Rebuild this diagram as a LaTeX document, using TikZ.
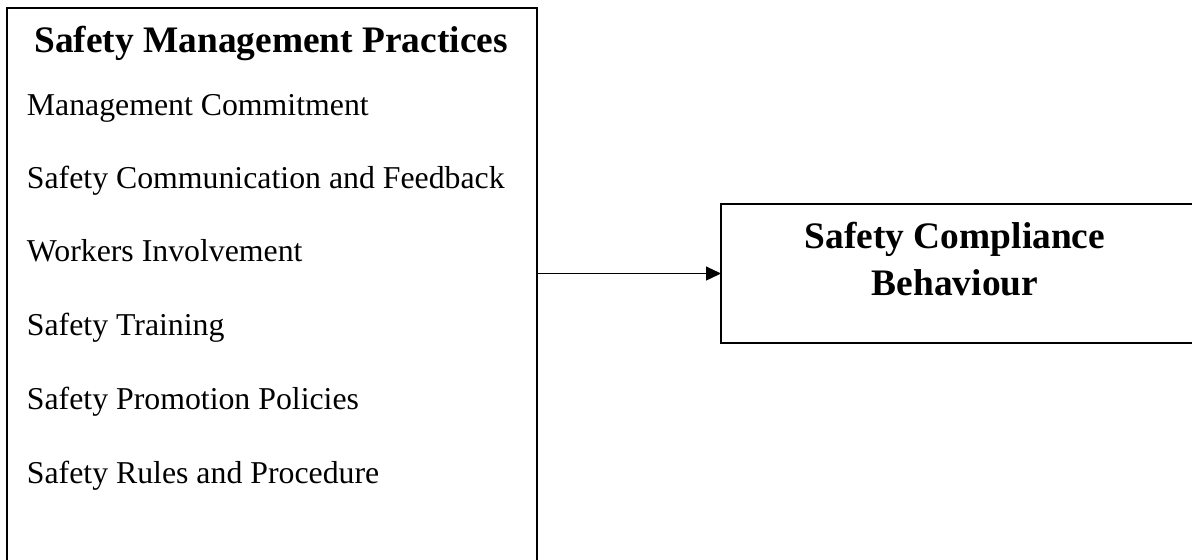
\documentclass[tikz,border=0pt]{standalone}
\usepackage{fontspec}
\setmainfont{Liberation Serif}
\usetikzlibrary{arrows.meta}
\begin{document}
\begin{tikzpicture}[x=0.5pt,y=-0.5pt,
  boxline/.style={line width=1pt},
  frame/.style={draw=none,inner sep=0pt,outer sep=0pt},
  title/.style={inner sep=0pt,font=\bfseries\fontsize{18.7}{23.5}\selectfont},
  item/.style={inner sep=0pt,anchor=base west,font=\fontsize{15.9}{19}\selectfont},
  link/.style={line width=0.6pt,-{Triangle[length=7.5pt,width=7pt]}}]
\useasboundingbox (0,0) rectangle (1192,559);
% left box (bottom runs off the page)
\node[frame,minimum width=265pt,minimum height=286pt] (lb) at (272,294) {};
\draw[boxline] (lb.south west) |- (lb.north east) -- (lb.south east);
% right box (right side runs off the page)
\node[frame,minimum width=239.5pt,minimum height=69.5pt] (rb) at (960.5,273.5) {};
\draw[boxline] (rb.north east) -| (rb.south west) -- (rb.south east);
% texts
\node[title,anchor=base] (t) at (271,52) {Safety Management Practices};
\node[item] (i1) at (26.5,115) {Management Commitment};
\node[item] (i2) at (26.5,188) {Safety Communication and Feedback};
\node[item] (i3) at (26.5,261) {Workers Involvement};
\node[item] (i4) at (26.5,335) {Safety Training};
\node[item] (i5) at (26.5,409) {Safety Promotion Policies};
\node[item] (i6) at (26.5,483) {Safety Rules and Procedure};
\node[title,anchor=base] (r1) at (955,248) {Safety Compliance};
\node[title,anchor=base] (r2) at (955,295) {Behaviour};
% connector
\draw[link] (rb.west -| lb.east) -- (rb.west);
\end{tikzpicture}
\end{document}
